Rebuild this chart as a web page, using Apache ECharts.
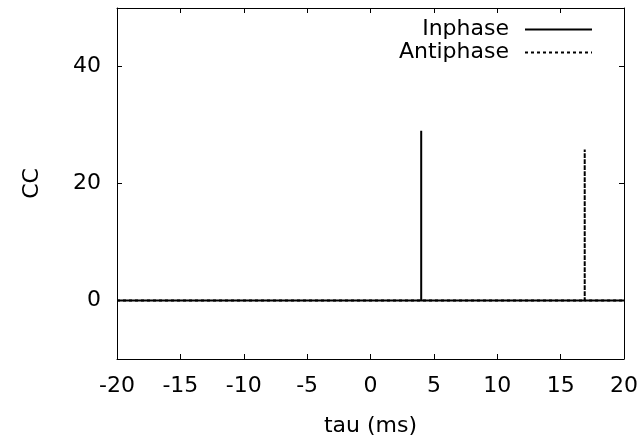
<!DOCTYPE html>
<html>
<head>
<meta charset="utf-8">
<script src="https://cdn.jsdelivr.net/npm/echarts@6/dist/echarts.min.js"></script>
<style>html,body{margin:0;padding:0;background:#fff}#c{width:641px;height:443px}</style>
</head>
<body>
<div id="c"></div>
<script>
// Data
var seriesNames = ['Inphase', 'Antiphase'];
var inphaseTau = [-20, 4, 4, 4, 20];
var inphaseCC = [0, 0, 29, 0, 0];
var antiphaseTau = [-20, 16.9, 16.9, 16.9, 20];
var antiphaseCC = [0, 0, 25.8, 0, 0];
var xTicks = [-20, -15, -10, -5, 0, 5, 10, 15, 20];
var yTicks = [0, 20, 40];

function pairs(xs, ys) { return xs.map(function (x, i) { return [x, ys[i]]; }); }

var font = 'DejaVu Sans, Liberation Sans, sans-serif';
var fs = 22;
var chart = echarts.init(document.getElementById('c'), null, { renderer: 'canvas' });
var axisLineStyle = { color: '#000', width: 1 };
chart.setOption({
  animation: false,
  backgroundColor: '#fff',
  grid: { left: 117, right: 17, top: 8, bottom: 84, containLabel: false },
  legend: {
    orient: 'vertical',
    right: 43,
    top: 13,
    align: 'right',
    itemWidth: 67,
    itemHeight: 12,
    itemGap: 0,
    data: seriesNames,
    itemStyle: { opacity: 0 },
    textStyle: { fontFamily: font, fontSize: fs, lineHeight: 23, color: '#000', padding: [0, 11, 0, 0] }
  },
  xAxis: [{
    type: 'value', min: -20, max: 20, interval: 5,
    name: 'tau (ms)', nameLocation: 'middle', nameGap: 56,
    nameTextStyle: { fontFamily: font, fontSize: fs, color: '#000' },
    axisLine: { show: true, onZero: false, lineStyle: axisLineStyle },
    axisTick: { show: true, inside: true, length: 5, lineStyle: { color: '#000' }, customValues: xTicks },
    axisLabel: { fontFamily: font, fontSize: fs, color: '#000', margin: 16, customValues: xTicks },
    splitLine: { show: false }
  }, {
    type: 'value', min: -20, max: 20, interval: 5, position: 'top',
    axisLine: { show: true, onZero: false, lineStyle: axisLineStyle },
    axisTick: { show: true, inside: true, length: 5, lineStyle: { color: '#000' }, customValues: xTicks },
    axisLabel: { show: false },
    splitLine: { show: false }
  }],
  yAxis: [{
    type: 'value', min: -10, max: 50,
    name: 'CC', nameLocation: 'middle', nameGap: 74, nameRotate: 90,
    nameTextStyle: { fontFamily: font, fontSize: fs, color: '#000' },
    axisLine: { show: true, onZero: false, lineStyle: axisLineStyle },
    axisTick: { show: true, inside: true, length: 5, lineStyle: { color: '#000' }, customValues: yTicks },
    axisLabel: { fontFamily: font, fontSize: fs, color: '#000', margin: 16, customValues: yTicks },
    splitLine: { show: false }
  }, {
    type: 'value', min: -10, max: 50, position: 'right',
    axisLine: { show: true, onZero: false, lineStyle: axisLineStyle },
    axisTick: { show: true, inside: true, length: 5, lineStyle: { color: '#000' }, customValues: yTicks },
    axisLabel: { show: false },
    splitLine: { show: false }
  }],
  series: [{
    name: 'Antiphase', type: 'line', symbol: 'none', z: 2,
    data: pairs(antiphaseTau, antiphaseCC),
    lineStyle: { color: '#000', width: 2, type: [3, 3] },
    itemStyle: { color: '#000' }
  }, {
    name: 'Inphase', type: 'line', symbol: 'none', z: 3,
    data: pairs(inphaseTau, inphaseCC),
    lineStyle: { color: '#000', width: 2, type: 'solid' },
    itemStyle: { color: '#000' }
  }]
});
</script>
</body>
</html>
